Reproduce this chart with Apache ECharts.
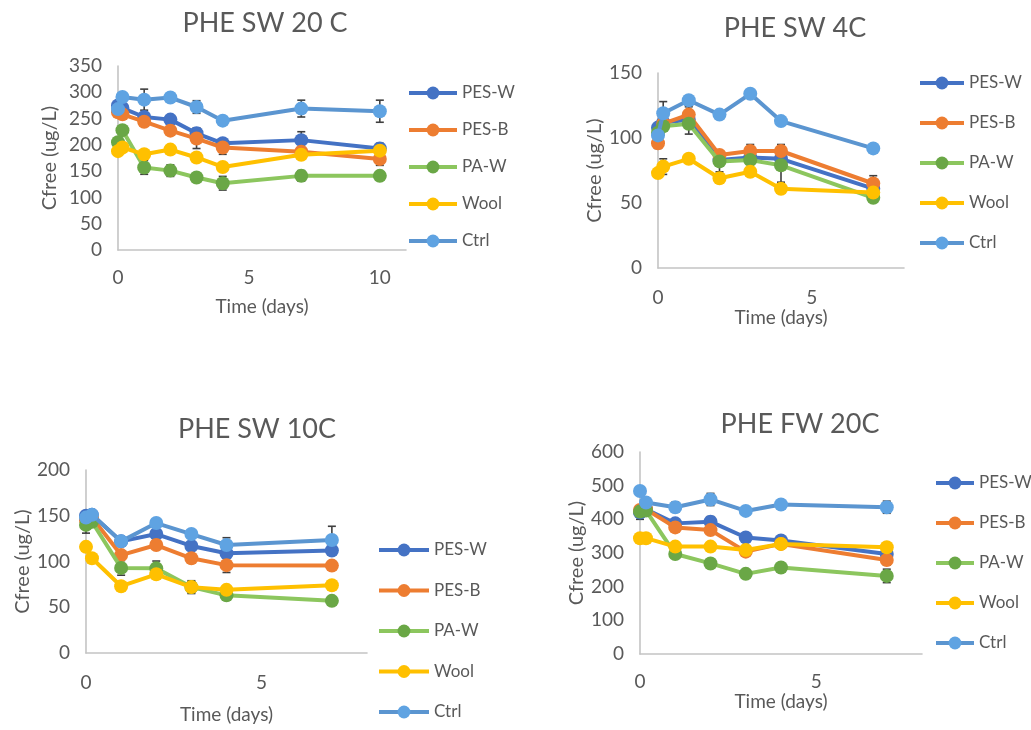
<!DOCTYPE html>
<html>
<head>
<meta charset="utf-8">
<script src="https://cdn.jsdelivr.net/npm/echarts@6/dist/echarts.min.js"></script>
<style>
html,body{margin:0;padding:0;background:#fff;}
#chart{width:1031px;height:730px;}
</style>
</head>
<body>
<div id="chart"></div>
<script>
// ---- Data ----
const seriesNames = ['PES-W', 'PES-B', 'PA-W', 'Wool', 'Ctrl'];
const panelTitles = ['PHE SW 20 C', 'PHE SW 4C', 'PHE SW 10C', 'PHE FW 20C'];
const xAxisName = 'Time (days)';
const yAxisName = 'Cfree (ug/L)';

// Panel 1: PHE SW 20 C
const time1 = [0, 0.17, 1, 2, 3, 4, 7, 10];
const p1PESW = [275, 270, 253, 248, 222, 203, 209, 193];
const p1PESB = [262, 258, 244, 227, 212, 195, 187, 173];
const p1PAW  = [205, 228, 157, 151, 138, 127, 141, 141];
const p1Wool = [188, 195, 182, 191, 176, 158, 181, 189];
const p1Ctrl = [268, 291, 286, 290, 272, 246, 269, 264];
const p1ErrPESW = [8, 6, 8, 6, 10, 8, 16, 10];
const p1ErrPESB = [6, 6, 8, 8, 19, 13, 8, 12];
const p1ErrPAW  = [8, 8, 13, 11, 8, 13, 10, 8];
const p1ErrWool = [5, 5, 5, 5, 5, 5, 8, 5];
const p1ErrCtrl = [6, 8, 20, 8, 12, 6, 16, 21];

// Panel 2: PHE SW 4C
const time2 = [0, 0.17, 1, 2, 3, 4, 7];
const p2PESW = [108, 112, 114, 83, 85, 84, 61];
const p2PESB = [96, 111, 118, 87, 90, 90, 65];
const p2PAW  = [104, 109, 111, 82, 83, 79, 54];
const p2Wool = [73, 78, 84, 69, 74, 61, 58];
const p2Ctrl = [102, 119, 129, 118, 134, 113, 92];
const p2ErrPESW = [3, 3, 4, 3, 3, 4, 4];
const p2ErrPESB = [4, 4, 6, 3, 5, 5, 6];
const p2ErrPAW  = [3, 3, 8, 8, 3, 13, 3];
const p2ErrWool = [3, 6, 3, 3, 3, 3, 3];
const p2ErrCtrl = [3, 9, 3, 3, 3, 3, 3];

// Panel 3: PHE SW 10C
const time3 = [0, 0.17, 1, 2, 3, 4, 7];
const p3PESW = [150, 151, 122, 130, 117, 109, 112];
const p3PESB = [145, 148, 107, 118, 103.5, 96, 95.5];
const p3PAW  = [140, 143.5, 93, 92.5, 72, 63, 57];
const p3Wool = [116, 103.5, 73, 86, 72, 69, 74];
const p3Ctrl = [148, 151, 122, 142, 130, 118, 123.5];
const p3ErrPESW = [3, 3, 4, 4, 4, 8, 4];
const p3ErrPESB = [3, 3, 4, 4, 4, 8, 3];
const p3ErrPAW  = [9, 3, 8, 8, 6, 3, 3];
const p3ErrWool = [3, 3, 3, 3, 7, 3, 3];
const p3ErrCtrl = [3, 3, 3, 4, 3, 8, 15];

// Panel 4: PHE FW 20C
const time4 = [0, 0.17, 1, 2, 3, 4, 7];
const p4PESW = [420, 430, 388, 393, 346, 337, 297];
const p4PESB = [428, 430, 376, 368, 304, 327, 279];
const p4PAW  = [423, 426, 297, 269, 238, 257, 232];
const p4Wool = [344, 344, 319, 319, 309, 327, 317];
const p4Ctrl = [484, 450, 436, 459, 425, 444, 436];
const p4ErrPESW = [20, 10, 12, 15, 10, 8, 10];
const p4ErrPESB = [10, 10, 10, 10, 10, 8, 15];
const p4ErrPAW  = [10, 10, 12, 12, 8, 8, 20];
const p4ErrWool = [8, 8, 8, 8, 8, 8, 8];
const p4ErrCtrl = [12, 12, 15, 18, 8, 8, 18];

const yMaxes = [350, 150, 200, 600];
const yIntervals = [50, 50, 50, 100];
const xMaxes = [11, 8, 8, 8];

// ---- Styling / layout ----
const FONT = 'Lato, "Open Sans", sans-serif';
const TXT = '#595959';
const lineColors   = ['#4472C4', '#ED7D31', '#8CC65E', '#FFC000', '#5B95D0'];
const markerColors = ['#4472C4', '#ED7D31', '#6AA746', '#FFC000', '#5FA3E2'];

const panels = [
  { t: time1, vals: [p1PESW, p1PESB, p1PAW, p1Wool, p1Ctrl], errs: [p1ErrPESW, p1ErrPESB, p1ErrPAW, p1ErrWool, p1ErrCtrl],
    grid: {left: 118, top: 66, width: 288, height: 184}, titlePos: [265, 10], legendPos: [407, 83], legendGap: 17, legendW: 48,
    xMargin: 18, xNameGap: 47, yNameGap: 58 },
  { t: time2, vals: [p2PESW, p2PESB, p2PAW, p2Wool, p2Ctrl], errs: [p2ErrPESW, p2ErrPESB, p2ErrPAW, p2ErrWool, p2ErrCtrl],
    grid: {left: 658, top: 73, width: 246, height: 195}, titlePos: [795, 15], legendPos: [918, 73], legendGap: 20, legendW: 44,
    xMargin: 20, xNameGap: 38, yNameGap: 53 },
  { t: time3, vals: [p3PESW, p3PESB, p3PAW, p3Wool, p3Ctrl], errs: [p3ErrPESW, p3ErrPESB, p3ErrPAW, p3ErrWool, p3ErrCtrl],
    grid: {left: 86, top: 470, width: 281, height: 183}, titlePos: [257, 416], legendPos: [377, 540], legendGap: 20.5, legendW: 50,
    xMargin: 20, xNameGap: 52, yNameGap: 52 },
  { t: time4, vals: [p4PESW, p4PESB, p4PAW, p4Wool, p4Ctrl], errs: [p4ErrPESW, p4ErrPESB, p4ErrPAW, p4ErrWool, p4ErrCtrl],
    grid: {left: 640, top: 452, width: 282, height: 202}, titlePos: [800, 411], legendPos: [934, 473], legendGap: 20, legendW: 38,
    xMargin: 18, xNameGap: 35, yNameGap: 50 }
];

const option = {
  animation: false,
  backgroundColor: '#fff',
  title: [], legend: [], grid: [], xAxis: [], yAxis: [], series: []
};

function errRender(params, api) {
  const x = api.value(0), y = api.value(1), e = api.value(2);
  const top = api.coord([x, y + e]);
  const bot = api.coord([x, y - e]);
  const w = 4;
  const st = {stroke: '#3f3f3f', lineWidth: 1.6};
  return {
    type: 'group',
    children: [
      {type: 'line', shape: {x1: top[0], y1: top[1], x2: bot[0], y2: bot[1]}, style: st},
      {type: 'line', shape: {x1: top[0] - w, y1: top[1], x2: top[0] + w, y2: top[1]}, style: st},
      {type: 'line', shape: {x1: bot[0] - w, y1: bot[1], x2: bot[0] + w, y2: bot[1]}, style: st}
    ]
  };
}

panels.forEach((p, i) => {
  option.title.push({
    text: panelTitles[i], left: p.titlePos[0], top: p.titlePos[1], textAlign: 'center', padding: 0,
    textStyle: {fontFamily: FONT, fontSize: 27, fontWeight: 'normal', color: TXT}
  });
  option.legend.push({
    data: seriesNames, orient: 'vertical', left: p.legendPos[0], top: p.legendPos[1], padding: 0,
    itemWidth: p.legendW, itemHeight: 16, itemGap: p.legendGap, selectedMode: false,
    lineStyle: {width: 4},
    textStyle: {fontFamily: FONT, fontSize: 17, color: TXT, lineHeight: 20}
  });
  option.grid.push(Object.assign({containLabel: false}, p.grid));
  option.xAxis.push({
    gridIndex: i, type: 'value', min: 0, max: xMaxes[i], interval: 5,
    name: xAxisName, nameLocation: 'middle', nameGap: p.xNameGap,
    nameTextStyle: {fontFamily: FONT, fontSize: 19, color: TXT},
    axisLine: {show: true, onZero: false, lineStyle: {color: '#c4c4c4', width: 1.6}},
    axisTick: {show: false}, splitLine: {show: false},
    axisLabel: {margin: p.xMargin, fontFamily: FONT, fontSize: 19, color: TXT,
      formatter: v => (v % 5 === 0 ? String(v) : '')}
  });
  option.yAxis.push({
    gridIndex: i, type: 'value', min: 0, max: yMaxes[i], interval: yIntervals[i],
    name: yAxisName, nameLocation: 'middle', nameGap: p.yNameGap,
    nameTextStyle: {fontFamily: FONT, fontSize: 20, color: TXT},
    axisLine: {show: true, lineStyle: {color: '#c4c4c4', width: 1.6}},
    axisTick: {show: false}, splitLine: {show: false},
    axisLabel: {margin: 16, fontFamily: FONT, fontSize: 19, color: TXT}
  });
  seriesNames.forEach((name, k) => {
    option.series.push({
      type: 'custom', name: name + ' error', xAxisIndex: i, yAxisIndex: i, z: 1,
      renderItem: errRender, encode: {x: 0, y: 1},
      data: p.t.map((x, j) => [x, p.vals[k][j], p.errs[k][j]]),
      silent: true
    });
  });
  seriesNames.forEach((name, k) => {
    option.series.push({
      type: 'line', name: name, xAxisIndex: i, yAxisIndex: i, z: 2 + k,
      symbol: 'circle', symbolSize: 14, showSymbol: true,
      lineStyle: {color: lineColors[k], width: 4},
      itemStyle: {color: markerColors[k]},
      data: p.t.map((x, j) => [x, p.vals[k][j]])
    });
  });
});

const chart = echarts.init(document.getElementById('chart'), null, {renderer: 'canvas'});
chart.setOption(option);
</script>
</body>
</html>
